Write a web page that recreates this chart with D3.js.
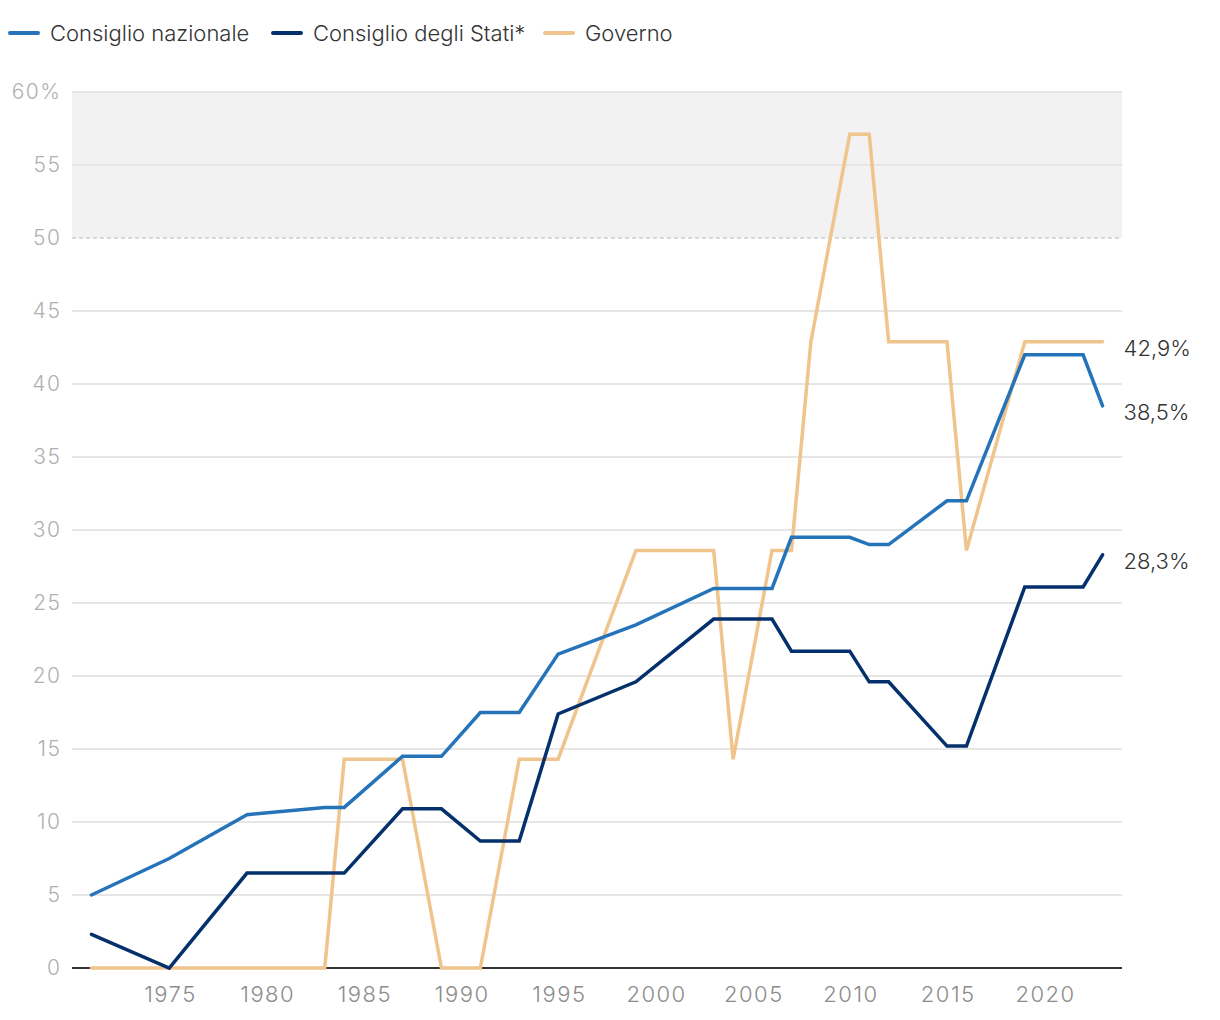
<!DOCTYPE html>
<html>
<head>
<meta charset="utf-8">
<script src="https://cdn.jsdelivr.net/npm/d3@7"></script>
<style>
  body { margin: 0; background: #fff; }
  svg { display: block; font-family: Inter, Roboto, "Noto Sans", sans-serif; }
</style>
</head>
<body>
<svg id="chart" width="1220" height="1020"></svg>
<script>
// ---- data ----
const seriesNames = ["Consiglio nazionale", "Consiglio degli Stati*", "Governo"];
const seriesColors = ["#2574BA", "#04306C", "#F0C48D"];

const nazionaleYears  = [1971, 1975, 1979, 1983, 1984, 1987, 1989, 1991, 1993, 1995, 1999, 2003, 2006, 2007, 2010, 2011, 2012, 2015, 2016, 2019, 2022, 2023];
const nazionaleValues = [5.0, 7.5, 10.5, 11.0, 11.0, 14.5, 14.5, 17.5, 17.5, 21.5, 23.5, 26.0, 26.0, 29.5, 29.5, 29.0, 29.0, 32.0, 32.0, 42.0, 42.0, 38.5];

const statiYears  = [1971, 1975, 1979, 1983, 1984, 1987, 1989, 1991, 1993, 1995, 1999, 2003, 2006, 2007, 2010, 2011, 2012, 2015, 2016, 2019, 2022, 2023];
const statiValues = [2.3, 0, 6.5, 6.5, 6.5, 10.9, 10.9, 8.7, 8.7, 17.4, 19.6, 23.9, 23.9, 21.7, 21.7, 19.6, 19.6, 15.2, 15.2, 26.1, 26.1, 28.3];

const governoYears  = [1971, 1975, 1979, 1983, 1984, 1987, 1989, 1991, 1993, 1995, 1999, 2003, 2004, 2006, 2007, 2008, 2010, 2011, 2012, 2015, 2016, 2019, 2022, 2023];
const governoValues = [0, 0, 0, 0, 14.3, 14.3, 0, 0, 14.3, 14.3, 28.6, 28.6, 14.3, 28.6, 28.6, 42.9, 57.1, 57.1, 42.9, 42.9, 28.6, 42.9, 42.9, 42.9];

const xTicks = [1975, 1980, 1985, 1990, 1995, 2000, 2005, 2010, 2015, 2020];
const yTicks = [0, 5, 10, 15, 20, 25, 30, 35, 40, 45, 50, 55, 60];
const endLabels = ["38,5%", "28,3%", "42,9%"];

// ---- layout ----
const svg = d3.select("#chart");
const pLeft = 72, pRight = 1122, pTop = 92, pBottom = 968;
const x = d3.scaleLinear().domain([1970, 2024]).range([pLeft, pRight]);
const y = d3.scaleLinear().domain([0, 60]).range([pBottom, pTop]);
const FONT = "Inter, Roboto, sans-serif";

// shaded band 50-60
svg.append("rect")
  .attr("x", pLeft).attr("y", y(60))
  .attr("width", pRight - pLeft).attr("height", y(50) - y(60))
  .attr("fill", "#F2F2F2");

// grid
svg.append("g").selectAll("line")
  .data(yTicks.filter(d => d !== 0))
  .join("line")
  .attr("x1", pLeft).attr("x2", pRight)
  .attr("y1", d => y(d)).attr("y2", d => y(d))
  .attr("stroke", d => d === 50 ? "#D6D6D6" : "#E6E6E6")
  .attr("stroke-width", 2)
  .attr("stroke-dasharray", d => d === 50 ? "4,3" : null);

// y axis labels
const yAxis = svg.append("g")
  .attr("transform", `translate(${pLeft},0)`)
  .call(d3.axisLeft(y).tickValues(yTicks).tickSize(0).tickPadding(10.5)
    .tickFormat(d => d === 60 ? "60%" : d));
yAxis.select(".domain").remove();
yAxis.selectAll("text")
  .attr("fill", "#B0B0B0").attr("font-size", 21).attr("font-weight", 300)
  .attr("letter-spacing", 1.5)
  .attr("font-family", FONT);

// x axis labels
const xAxis = svg.append("g")
  .attr("transform", `translate(0,${pBottom})`)
  .call(d3.axisBottom(x).tickValues(xTicks).tickSize(0).tickPadding(18)
    .tickFormat(d3.format("d")));
xAxis.select(".domain").remove();
xAxis.selectAll("text")
  .attr("fill", "#8C8C8C").attr("font-size", 22).attr("font-weight", 300)
  .attr("letter-spacing", 1.5)
  .attr("dx", 0.75)
  .attr("font-family", FONT);

// baseline
svg.append("line")
  .attr("x1", pLeft).attr("x2", pRight)
  .attr("y1", y(0)).attr("y2", y(0))
  .attr("stroke", "#333").attr("stroke-width", 2);

// lines
const series = [
  { name: seriesNames[0], color: seriesColors[0], pts: nazionaleYears.map((yr, i) => [yr, nazionaleValues[i]]), label: endLabels[0] },
  { name: seriesNames[1], color: seriesColors[1], pts: statiYears.map((yr, i) => [yr, statiValues[i]]), label: endLabels[1] },
  { name: seriesNames[2], color: seriesColors[2], pts: governoYears.map((yr, i) => [yr, governoValues[i]]), label: endLabels[2] }
];
const line = d3.line().x(d => x(d[0])).y(d => y(d[1]));

[series[2], series[0], series[1]].forEach(s => {
  svg.append("path")
    .datum(s.pts)
    .attr("d", line)
    .attr("fill", "none")
    .attr("stroke", s.color)
    .attr("stroke-width", 3.5)
    .attr("stroke-linejoin", "miter")
    .attr("stroke-linecap", "round");
});

// end labels
series.forEach(s => {
  const last = s.pts[s.pts.length - 1];
  svg.append("text")
    .attr("x", x(last[0]) + 21)
    .attr("y", y(last[1]) + 6)
    .attr("dominant-baseline", "central")
    .attr("font-size", 22).attr("font-weight", 300)
    .attr("font-family", FONT)
    .attr("fill", "#333")
    .text(s.label);
});

// legend
const legendX = [10, 273, 545];
const leg = svg.append("g");
series.forEach((s, i) => {
  leg.append("line")
    .attr("x1", legendX[i]).attr("x2", legendX[i] + 28)
    .attr("y1", 33).attr("y2", 33)
    .attr("stroke", s.color).attr("stroke-width", 4)
    .attr("stroke-linecap", "round");
  leg.append("text")
    .attr("x", legendX[i] + 40).attr("y", 33)
    .attr("dominant-baseline", "central")
    .attr("font-size", 22).attr("font-weight", 300)
    .attr("font-family", FONT)
    .attr("fill", "#333")
    .text(s.name);
});
</script>
</body>
</html>
